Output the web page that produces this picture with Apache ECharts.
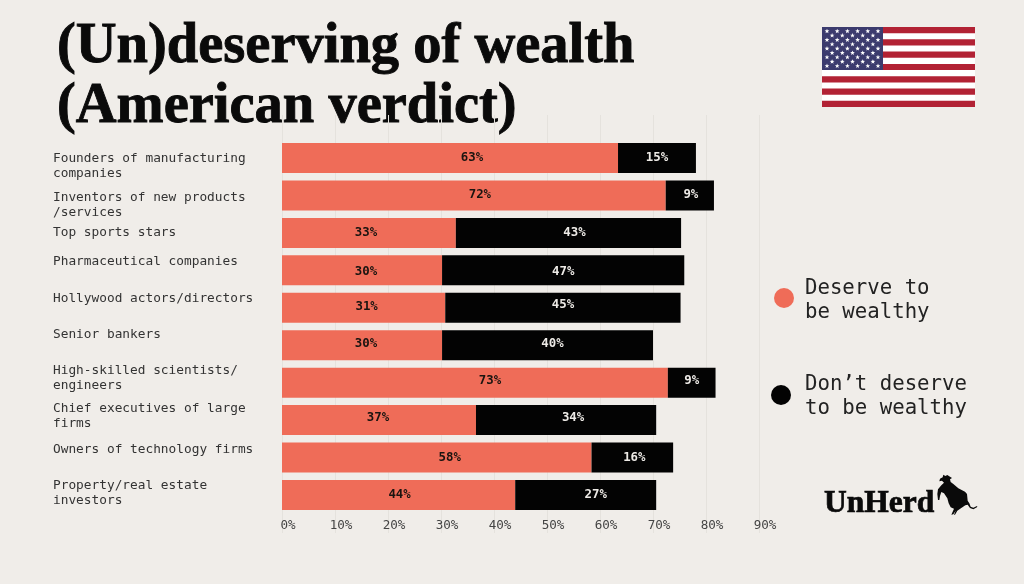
<!DOCTYPE html>
<html><head><meta charset="utf-8">
<style>html,body{margin:0;padding:0;background:#F0EDE9}#c{width:1024px;height:584px}</style>
<script src="https://cdn.jsdelivr.net/npm/echarts@6/dist/echarts.min.js"></script>
</head><body><div id="c"></div>
<script>
const categories = ['Founders of manufacturing\ncompanies','Inventors of new products\n/services','Top sports stars','Pharmaceutical companies','Hollywood actors/directors','Senior bankers','High-skilled scientists/\nengineers','Chief executives of large\nfirms','Owners of technology firms','Property/real estate\ninvestors'];
const deserve = [63.4,72.4,32.8,30.2,30.8,30.2,72.8,36.6,58.4,44];
const dontDeserve = [14.7,9.1,42.5,45.7,44.4,39.8,9,34,15.4,26.6];
const deserveLabels = ['63%','72%','33%','30%','31%','30%','73%','37%','58%','44%'];
const dontLabels = ['15%','9%','43%','47%','45%','40%','9%','34%','16%','27%'];
const seriesNames = ['Deserve to be wealthy',"Don\u2019t deserve to be wealthy"];
const titleLines = ['(Un)deserving of wealth','(American verdict)'];

// layout
const labelY = [159,198,233,262,299,335,371,409,450,486];
const nudgeA = [22,6,-3,4,3,4,15,-1,13,1];
const nudgeB = [0,1,6,0,0,5,0,7,2,10];
const nudgeY = [0,-1,0,1,-1,-1,-2,-2,0,0];
const mono = '"DejaVu Sans Mono","Liberation Mono",monospace';
const serif = '"Liberation Serif",serif';

const g = [];
titleLines.forEach((t,i)=>g.push({type:'text',x:57,y:[19,79][i],silent:true,
  style:{text:t,font:'bold 56.5px '+serif,fill:'#0a0a0a',stroke:'#0a0a0a',lineWidth:0.9,lineJoin:'round',textVerticalAlign:'top'}}));
categories.forEach((t,i)=>g.push({type:'text',x:53,y:labelY[i]-7.5,silent:true,
  style:{text:t,font:'12.8px '+mono,fill:'#333',lineHeight:15,textVerticalAlign:'top'}}));
const fx=822,fy=27,fw=153,fh=80,sh=fh/13;
g.push({type:'rect',shape:{x:fx,y:fy,width:fw,height:fh},style:{fill:'#fff'},silent:true});
for(let i=0;i<7;i++) g.push({type:'rect',shape:{x:fx,y:fy+i*2*sh,width:fw,height:sh},style:{fill:'#B22234'},silent:true});
g.push({type:'rect',shape:{x:fx,y:fy,width:61,height:43},style:{fill:'#3C3B6E'},silent:true});
for(let r=0;r<9;r++){const n=r%2?5:6;for(let c=0;c<n;c++){
  const cx=fx+5+c*10.2+(r%2?5.1:0),cy=fy+4.2+r*4.35,pts=[];
  for(let k=0;k<10;k++){const a=-Math.PI/2+k*Math.PI/5,rr=k%2?1.05:2.5;pts.push([cx+rr*Math.cos(a),cy+rr*Math.sin(a)]);}
  g.push({type:'polygon',shape:{points:pts},style:{fill:'#fff'},silent:true});
}}
g.push({type:'text',x:824,y:488,silent:true,style:{text:'UnHerd',font:'bold 31.5px '+serif,fill:'#0a0a0a',stroke:'#0a0a0a',lineWidth:0.7,lineJoin:'round',textVerticalAlign:'top'}});
const bull=[[40,14],[46,18],[52,15],[60,20],[66,24],[60,28],[62,36],[70,42],[85,55],[105,65],[111,72],[113,92],[118,100],[122,110],[130,113],[141,108],[142,111],[130,118],[120,114],[113,104],[106,106],[95,113],[82,122],[75,134],[72,134],[77,122],[70,133],[64,134],[72,116],[62,112],[56,100],[52,85],[42,70],[34,66],[30,78],[28,90],[24,90],[22,72],[24,58],[34,46],[42,38],[36,32],[28,34],[30,26],[38,22]];
g.push({type:'polygon',shape:{points:bull.map(p=>[930+p[0]/3,470+p[1]/3])},style:{fill:'#0a0a0a'},silent:true});

const legendRich = h => ({
  s:{fontFamily:mono,fontSize:2,lineHeight:h,color:'#222'},
  a:{fontFamily:mono,fontSize:20.7,lineHeight:24,color:'#222'}
});
const option={
  backgroundColor:'#F0EDE9',
  animation:false,
  textStyle:{fontFamily:mono},
  grid:[
    {left:282,width:477,top:139.3,height:374.4},
    {left:282,width:477,top:115,height:418}
  ],
  xAxis:[
    {type:'value',gridIndex:0,min:0,max:90,interval:10,axisLine:{show:false},axisTick:{show:false},splitLine:{show:false},
      axisLabel:{formatter:'{value}%',fontFamily:mono,fontSize:12.6,color:'#444',margin:6,padding:[0,0,0,12],hideOverlap:false}},
    {type:'value',gridIndex:1,min:0,max:90,interval:10,axisLine:{show:false},axisTick:{show:false},axisLabel:{show:false},
      splitLine:{show:true,lineStyle:{color:'#E5E2DD',width:1}}}
  ],
  yAxis:[
    {type:'category',gridIndex:0,inverse:true,data:categories,axisLine:{show:false},axisTick:{show:false},axisLabel:{show:false}},
    {type:'value',gridIndex:1,min:0,max:1,show:false}
  ],
  legend:[
    {left:774,top:273,padding:0,itemWidth:32,itemHeight:20,icon:'circle',data:[seriesNames[0]],
      formatter:()=>'{s| }\n{a|Deserve to}\n{a|be wealthy}',textStyle:{fontFamily:mono,fontSize:20.7,color:'#222',rich:legendRich(6)}},
    {left:771,top:370,padding:0,itemWidth:38,itemHeight:20,icon:'circle',data:[seriesNames[1]],
      formatter:()=>'{s| }\n{a|Don\u2019t deserve}\n{a|to be wealthy}',textStyle:{fontFamily:mono,fontSize:20.7,color:'#222',rich:legendRich(4)}}
  ],
  series:[
    {name:seriesNames[0],type:'bar',stack:'a',barWidth:30,itemStyle:{color:'#EF6C58'},
      data:deserve.map((v,i)=>({value:v,label:{offset:[nudgeA[i],nudgeY[i]],formatter:deserveLabels[i]}})),
      label:{show:true,position:'inside',fontFamily:mono,fontWeight:'bold',fontSize:12.4,color:'#1a1410'},z:3},
    {name:seriesNames[1],type:'bar',stack:'a',barWidth:30,itemStyle:{color:'#030303'},
      data:dontDeserve.map((v,i)=>({value:v,label:{offset:[nudgeB[i],i===4?-3:nudgeY[i]],formatter:dontLabels[i]}})),
      label:{show:true,position:'inside',fontFamily:mono,fontWeight:'bold',fontSize:12.4,color:'#EDEAE6'},z:3}
  ],
  graphic:g
};
echarts.init(document.getElementById('c'),null,{renderer:'canvas'}).setOption(option);
</script></body></html>
